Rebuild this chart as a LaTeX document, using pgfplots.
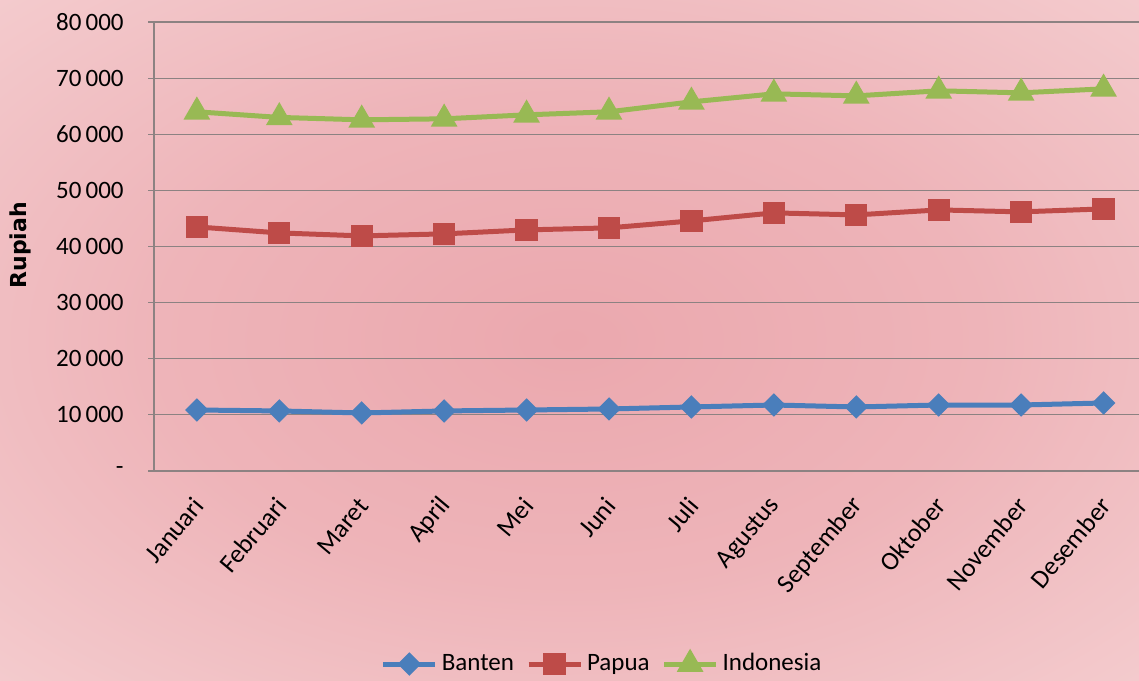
\documentclass[border=0pt]{standalone}
\usepackage{pgfplots}
\pgfplotsset{compat=1.18}
\usepackage{fontspec}
\setmainfont{Carlito}
\newfontfamily\labelfont{DejaVu Sans}

\definecolor{banten}{HTML}{4A7EBB}
\definecolor{papua}{HTML}{BE4B48}
\definecolor{indo}{HTML}{98B954}
\definecolor{bgin}{RGB}{235,168,174}
\definecolor{bgout}{RGB}{250,228,228}
\definecolor{gridc}{RGB}{140,130,130}

\pgfdeclareradialshading{bgshade}{\pgfpoint{0bp}{0bp}}{%
  color(0bp)=(bgin); color(18bp)=(bgin!80!bgout); color(55bp)=(bgout); color(80bp)=(bgout)}

\pgfplotstableread{
x banten papua indonesia
0  10870 43490 64000
1  10700 42420 63000
2  10340 41890 62570
3  10700 42250 62750
4  10870 42960 63460
5  11050 43320 64000
6  11410 44560 65770
7  11760 45990 67200
8  11410 45630 66840
9  11760 46520 67740
10 11760 46170 67380
11 12120 46700 68090
}\datatable

\begin{document}
\fontsize{12.5pt}{15pt}\selectfont
\begin{tikzpicture}
\path[use as bounding box] (0,0) rectangle (569.5pt,-340pt);
\shade[shading=bgshade] (0,0) rectangle (569.5pt,-340pt);
\begin{axis}[
    at={(77pt,-11pt)}, anchor=north west,
    scale only axis, width=492.5pt, height=224.5pt,
    xmin=-0.52, xmax=11.43, ymin=0, ymax=80000,
    scaled y ticks=false,
    axis x line=bottom, axis y line=left,
    axis line style={-, draw=gridc, line width=0.6pt},
    ymajorgrids, grid style={draw=gridc, line width=0.6pt},
    xtick={0,...,11},
    xticklabels={Januari,Februari,Maret,April,Mei,Juni,Juli,Agustus,September,Oktober,November,Desember},
    x tick style={draw=none},
    xticklabel style={yshift=-12pt, xshift=1pt, rotate=50, anchor=east, inner sep=0pt, font=\fontsize{13pt}{15pt}\selectfont},
    ytick={0,10000,...,80000},
    yticklabels={-,10\,000,20\,000,30\,000,40\,000,50\,000,60\,000,70\,000,80\,000},
    y tick style={draw=gridc, line width=0.6pt},
    tick align=outside, major tick length=3pt,
    yticklabel style={font=\fontsize{12.5pt}{15pt}\selectfont, anchor=east, inner sep=0pt},
    yticklabel shift=12pt,
    ylabel={Rupiah},
    ylabel style={at={(axis description cs:-0.136,0.503)}, anchor=center, font=\labelfont\bfseries\fontsize{11pt}{13pt}\selectfont},
    legend style={at={(axis description cs:0.456,-0.43)}, anchor=center, draw=none, fill=none,
        legend columns=3, font=\fontsize{12.5pt}{15pt}\selectfont,
        /tikz/every even column/.append style={column sep=4pt},
        /tikz/every odd column/.append style={column sep=0pt}},
    legend image code/.code={\draw[mark repeat=2, mark phase=2] plot coordinates {(0pt,0pt) (13pt,0pt) (26pt,0pt)};},
    legend cell align=left,
    clip=false,
]
\addplot[banten, line width=2.5pt, mark=square*, mark size=2.9pt, mark options={rotate=45, solid}] table[x=x, y=banten] {\datatable};
\addplot[papua, line width=2.5pt, mark=square*, mark size=4.3pt, mark options={solid}] table[x=x, y=papua] {\datatable};
\addplot[indo, line width=2.5pt, mark=triangle*, mark size=5.2pt, mark options={solid}] table[x=x, y=indonesia] {\datatable};
\legend{Banten, Papua, Indonesia}
\end{axis}
\end{tikzpicture}
\end{document}
